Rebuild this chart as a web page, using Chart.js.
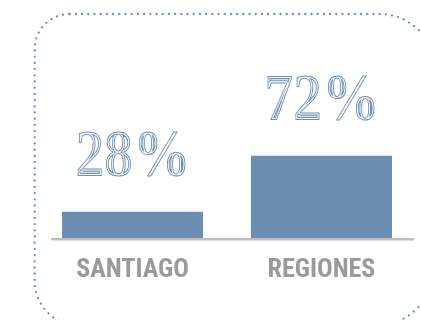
<!DOCTYPE html>
<html>
<head>
<meta charset="utf-8">
<script src="https://cdn.jsdelivr.net/npm/chart.js@4"></script>
<style>
  html, body { margin: 0; padding: 0; background: #ffffff; }
  #wrap { width: 421px; height: 320px; position: relative; }
</style>
</head>
<body>
<div id="wrap"><canvas id="c"></canvas></div>
<script>
// Share of total, by area
const categories = ['SANTIAGO', 'REGIONES'];
const shares = [28, 72];
const shareLabels = ['28%', '72%'];

const BLUE = '#6c8eb1';
const GREY_TEXT = '#9a9a9a';

// Dotted rounded frame behind the chart
const framePlugin = {
  id: 'frame',
  beforeDraw(chart) {
    const ctx = chart.ctx;
    ctx.save();
    ctx.beginPath();
    ctx.roundRect(34.7, 14, 400, 312, [35, 55, 60, 45]);
    ctx.setLineDash([0, 6.2]);
    ctx.lineCap = 'round';
    ctx.lineWidth = 2.3;
    ctx.strokeStyle = '#6a8cb2';
    ctx.stroke();
    ctx.restore();
  }
};

// Grey baseline under the bars
const baselinePlugin = {
  id: 'baseline',
  afterDatasetsDraw(chart) {
    const { ctx, chartArea } = chart;
    ctx.save();
    ctx.beginPath();
    ctx.moveTo(chartArea.left + 13, chartArea.bottom + 1.2);
    ctx.lineTo(chartArea.right - 2, chartArea.bottom + 1.2);
    ctx.lineWidth = 2.5;
    ctx.strokeStyle = '#bebebe';
    ctx.stroke();
    ctx.restore();
  }
};

// Inline ("engraved") lettering: glyph filled, then concentric bands
// painted inside it only, leaving parallel lines that follow the outline.
function drawEngraved(ctx, text, cx, baselineY) {
  const W = 240, H = 110, BASE = 88;
  const off = document.createElement('canvas');
  off.width = W;
  off.height = H;
  const o = off.getContext('2d');
  o.translate(W / 2, BASE);
  o.scale(0.85, 1);
  o.font = 'bold 68px "Liberation Serif", "Times New Roman", serif';
  o.textAlign = 'center';
  o.textBaseline = 'alphabetic';
  o.lineJoin = 'round';
  o.fillStyle = BLUE;
  o.fillText(text, 0, 0);
  o.globalCompositeOperation = 'source-atop';
  const bands = [
    [40, '#ffffff'],
    [6.4, BLUE],
    [4.2, '#ffffff'],
    [2.0, BLUE]
  ];
  bands.forEach(([w, c]) => {
    o.lineWidth = w;
    o.strokeStyle = c;
    o.strokeText(text, 0, 0);
  });
  ctx.drawImage(off, Math.round(cx - W / 2), Math.round(baselineY - BASE));
}

const valueLabelPlugin = {
  id: 'valueLabels',
  afterDatasetsDraw(chart) {
    const meta = chart.getDatasetMeta(0);
    meta.data.forEach((bar, i) => {
      drawEngraved(chart.ctx, shareLabels[i], bar.x, bar.y - 36);
    });
  }
};

new Chart(document.getElementById('c'), {
  type: 'bar',
  data: {
    labels: categories,
    datasets: [{
      data: shares,
      backgroundColor: BLUE,
      borderWidth: 0,
      categoryPercentage: 1,
      barPercentage: 0.746
    }]
  },
  options: {
    responsive: true,
    maintainAspectRatio: false,
    animation: false,
    layout: { padding: { left: 38, right: 5, top: 120, bottom: 0 } },
    plugins: { legend: { display: false }, tooltip: { enabled: false } },
    scales: {
      y: { display: false, min: 7.5, max: 100 },
      x: {
        grid: { display: false },
        border: { display: false },
        ticks: {
          color: GREY_TEXT,
          padding: 9,
          font: { family: '"Roboto Condensed", "Liberation Sans", sans-serif', size: 26, weight: 'bold' }
        },
        afterFit(scale) { scale.height = 82; }
      }
    }
  },
  plugins: [framePlugin, baselinePlugin, valueLabelPlugin]
});
</script>
</body>
</html>
